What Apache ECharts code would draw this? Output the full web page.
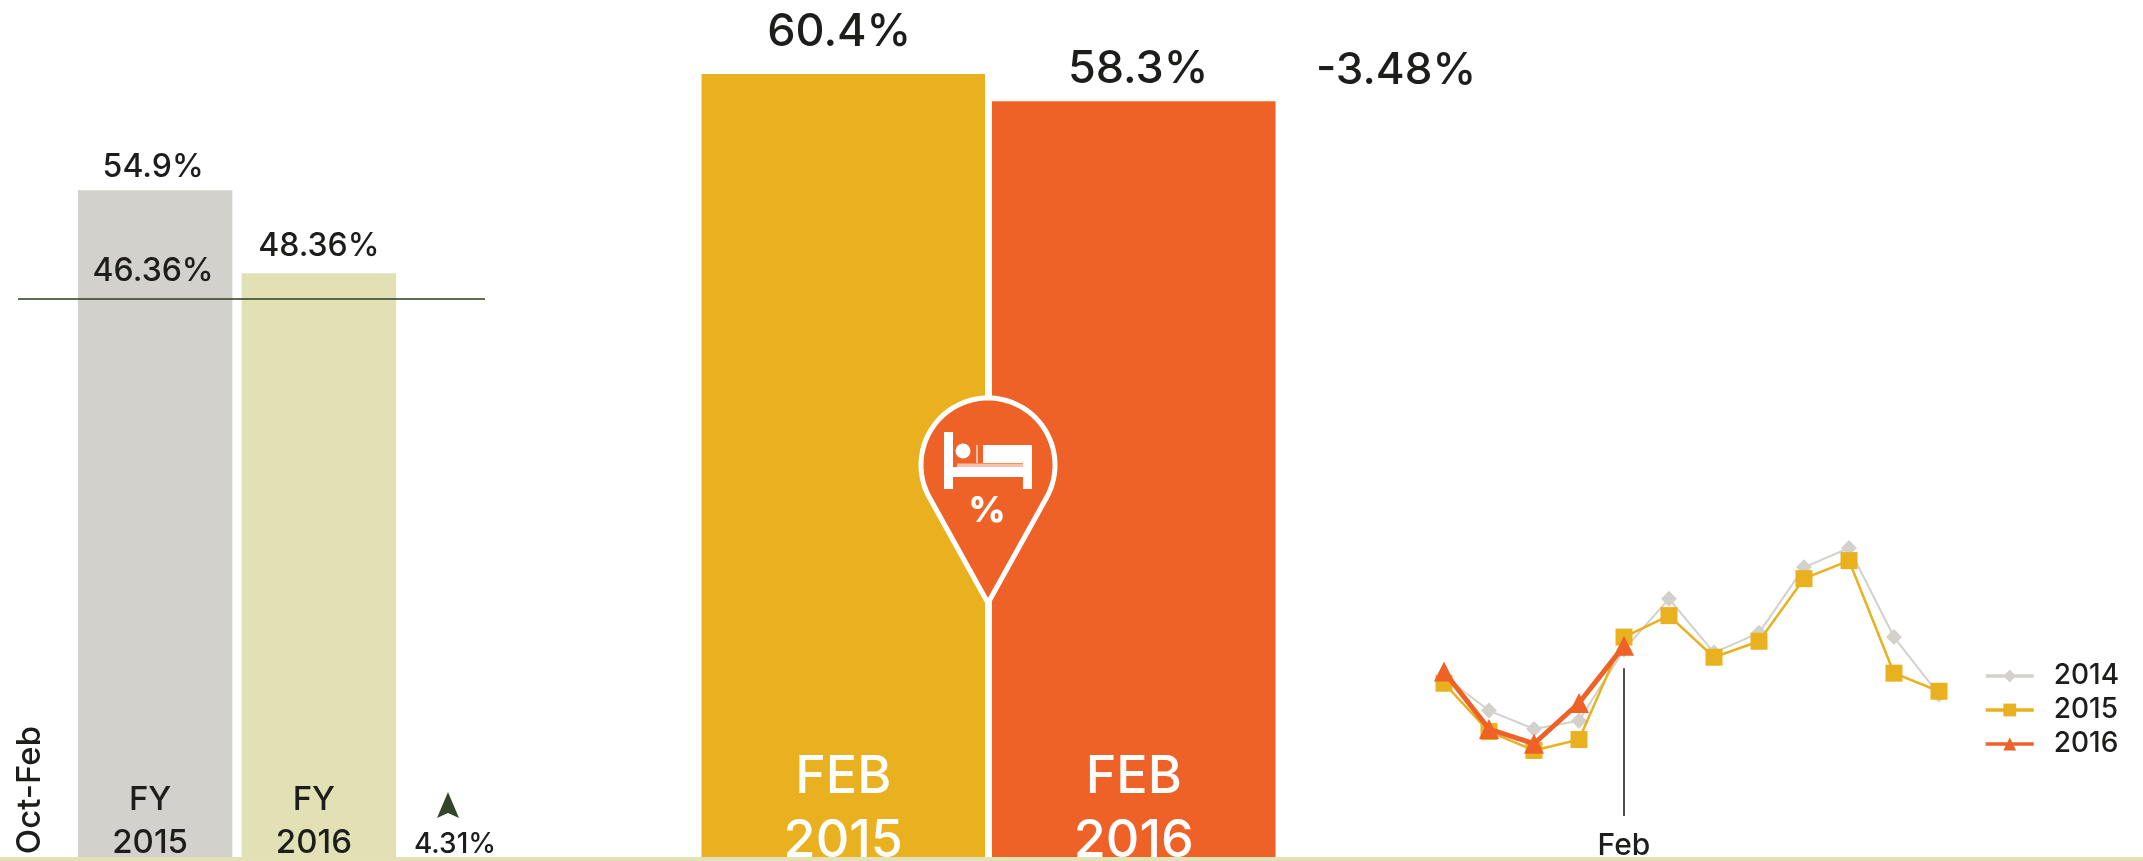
<!DOCTYPE html>
<html>
<head>
<meta charset="utf-8">
<style>html,body{margin:0;padding:0;background:#fff}#c{width:2143px;height:861px}</style>
<script src="https://cdn.jsdelivr.net/npm/echarts@6/dist/echarts.min.js"></script>
</head>
<body>
<div id="c"></div>
<script>
const fyCategories = ['FY\n2015', 'FY\n2016'];
const fyValues = [54.9, 48.36];
const fyReference = 46.36;
const fyChange = '4.31%';
const fyPeriod = 'Oct-Feb';
const febCategories = ['FEB\n2015', 'FEB\n2016'];
const febValues = [60.4, 58.3];
const febChange = '-3.48%';
const months = ['Oct','Nov','Dec','Jan','Feb','Mar','Apr','May','Jun','Jul','Aug','Sep'];
const series2014 = [51.0,42.9,38.5,40.5,57.4,69.5,56.7,61.4,77.0,81.6,60.4,46.7];
const series2015 = [49.4,37.9,33.4,36.0,60.4,65.5,55.6,59.4,74.3,78.6,51.8,47.5];
const series2016 = [52.2,38.5,35.0,44.7,58.3];
const highlightMonth = 'Feb';

const FONT = 'Inter';
const INK = '#1d1d1b';
const GREY = '#d2d1cc', PALE = '#e2e1b6', GOLD = '#e9b120', ORANGE = '#ee6127';
const hidden = {show:false};
const pct = p => p.value + '%';

// map-pin outline: circular head with straight sides meeting at the tip
function pinPoints(cx, cy, r, tipY) {
  const a = Math.PI/2 - Math.asin(r/(tipY-cy));
  const pts = [[cx, tipY]];
  for (let i = 0; i <= 80; i++) {
    const t = a + (2*Math.PI - 2*a)*i/80;
    pts.push([cx + r*Math.sin(t), cy + r*Math.cos(t)]);
  }
  return pts;
}

const chart = echarts.init(document.getElementById('c'), null, {renderer:'canvas'});
const fyColors = [GREY, PALE];
const fyDist = [7, 11];
const fyShift = [-2, 0];
const febColors = [GOLD, ORANGE];
const febDist = [19, 9];
const febShift = [-4, 4.5];
const white = {fill:'#fff'};
const faint = {fill:'rgba(255,255,255,0.6)'};

chart.setOption({
  animation:false,
  backgroundColor:'#fff',
  textStyle:{fontFamily:FONT},
  grid:[
    {left:73.25, width:327.5, top:100.1, bottom:4, outerBoundsMode:'none'},
    {left:18, width:467, top:100.1, bottom:4, outerBoundsMode:'none'},
    {left:698, width:581, top:74, bottom:4, outerBoundsMode:'none'},
    {left:1444, right:204, top:470.7, bottom:45, outerBoundsMode:'none'}
  ],
  xAxis:[
    {gridIndex:0, type:'category', data:fyCategories, axisLine:hidden, axisTick:hidden,
     axisLabel:{inside:true, margin:-8, color:INK, fontFamily:FONT, fontSize:33, fontWeight:500, lineHeight:43, verticalAlign:'bottom', padding:[0,10,0,0]}, z:5},
    {gridIndex:1, type:'value', min:0, max:1, show:false},
    {gridIndex:2, type:'category', data:febCategories, axisLine:hidden, axisTick:hidden,
     axisLabel:{inside:true, margin:-16, color:'#fff', fontFamily:FONT, fontSize:52, fontWeight:500, lineHeight:64, verticalAlign:'bottom'}, z:5},
    {gridIndex:3, type:'category', data:months, boundaryGap:false, axisLine:hidden, axisTick:hidden,
     axisLabel:{interval:(i,n)=>n===highlightMonth, margin:15, color:INK, fontFamily:FONT, fontSize:30, fontWeight:500}}
  ],
  yAxis:[
    {gridIndex:0, type:'value', min:2.4, max:62, show:false},
    {gridIndex:1, type:'value', min:2.4, max:62, show:false},
    {gridIndex:2, type:'value', min:0, max:60.4, show:false},
    {gridIndex:3, type:'value', min:17.8, max:100, show:false}
  ],
  legend:{
    left:1984, top:662, padding:0, orient:'vertical', itemWidth:48, itemHeight:16, itemGap:6,
    data:['2014','2015','2016'], lineStyle:{width:3.5},
    textStyle:{color:INK, fontFamily:FONT, fontSize:28, fontWeight:500, padding:[0,0,0,15]}
  },
  series:[
    {type:'bar', xAxisIndex:0, yAxisIndex:0, barWidth:154.5, silent:true,
     data:fyValues.map((v,i)=>({value:v, itemStyle:{color:fyColors[i]},
       label:{show:true, position:'top', distance:fyDist[i], offset:[fyShift[i],0], formatter:pct, color:INK, fontFamily:FONT, fontSize:32, fontWeight:500}})),
     markPoint:{silent:true, symbol:'circle', symbolSize:0,
       data:[{coord:[0, fyReference], value:fyReference,
         label:{show:true, position:'top', distance:11, offset:[-2,0], formatter:fyReference+'%', color:INK, fontFamily:FONT, fontSize:32, fontWeight:500}}]}},
    {type:'line', xAxisIndex:1, yAxisIndex:1, data:[], silent:true,
     markLine:{silent:true, symbol:'none', label:hidden,
       lineStyle:{color:'#2d3a22', width:1.5, type:'solid'},
       data:[{yAxis:fyReference}]}},
    {type:'bar', xAxisIndex:2, yAxisIndex:2, barWidth:283.5, silent:true,
     data:febValues.map((v,i)=>({value:v, itemStyle:{color:febColors[i]},
       label:{show:true, position:'top', distance:febDist[i], offset:[febShift[i],0], formatter:pct, color:INK, fontFamily:FONT, fontSize:45, fontWeight:500}}))},
    {name:'2014', type:'line', xAxisIndex:3, yAxisIndex:3, data:series2014, symbol:'diamond', symbolSize:16,
     lineStyle:{color:GREY, width:2}, itemStyle:{color:GREY}, z:3},
    {name:'2015', type:'line', xAxisIndex:3, yAxisIndex:3, data:series2015, symbol:'rect', symbolSize:17,
     lineStyle:{color:GOLD, width:2.5}, itemStyle:{color:GOLD}, z:4,
     markLine:{silent:true, symbol:'none', label:hidden, lineStyle:{color:'#111', width:1.5, type:'solid'},
       data:[[{coord:[highlightMonth,53]},{coord:[highlightMonth,17.8]}]]}},
    {name:'2016', type:'line', xAxisIndex:3, yAxisIndex:3, data:series2016, symbol:'triangle', symbolSize:20,
     lineStyle:{color:ORANGE, width:5}, itemStyle:{color:ORANGE}, z:5}
  ],
  graphic:[
    {type:'rect', z:100, shape:{x:0,y:857,width:2143,height:4}, style:{fill:'#e3e1b5'}},
    {type:'text', z:50, rotation:Math.PI/2, x:30, y:790, style:{text:fyPeriod, fill:INK, font:'500 33px '+FONT, align:'center', verticalAlign:'middle'}},
    {type:'polygon', z:50, shape:{points:[[448,792],[459,818],[448,813],[437,818]]}, style:{fill:'#34452a'}},
    {type:'text', z:50, x:455, y:845, style:{text:fyChange, fill:INK, font:'500 28px '+FONT, align:'center', verticalAlign:'middle'}},
    {type:'text', z:50, x:1396, y:71, style:{text:febChange, fill:INK, font:'500 44px '+FONT, align:'center', verticalAlign:'middle'}},
    {type:'polygon', z:60, shape:{points:pinPoints(988,465,67,603)}, style:{fill:ORANGE, stroke:'#fff', lineWidth:5}},
    {type:'rect', z:61, shape:{x:944,y:432,width:9,height:57}, style:white},
    {type:'rect', z:61, shape:{x:944,y:467,width:88,height:10}, style:white},
    {type:'rect', z:61, shape:{x:1023,y:445,width:9,height:44}, style:white},
    {type:'rect', z:61, shape:{x:983,y:445,width:40,height:18}, style:white},
    {type:'rect', z:61, shape:{x:957,y:463.5,width:66,height:3.5}, style:faint},
    {type:'rect', z:61, shape:{x:976,y:445,width:2,height:18}, style:faint},
    {type:'circle', z:61, shape:{cx:963,cy:451,r:7.5}, style:white},
    {type:'text', z:61, x:987, y:511, style:{text:'%', fill:'#fff', font:'800 36px '+FONT, align:'center', verticalAlign:'middle'}}
  ]
});
</script>
</body>
</html>
